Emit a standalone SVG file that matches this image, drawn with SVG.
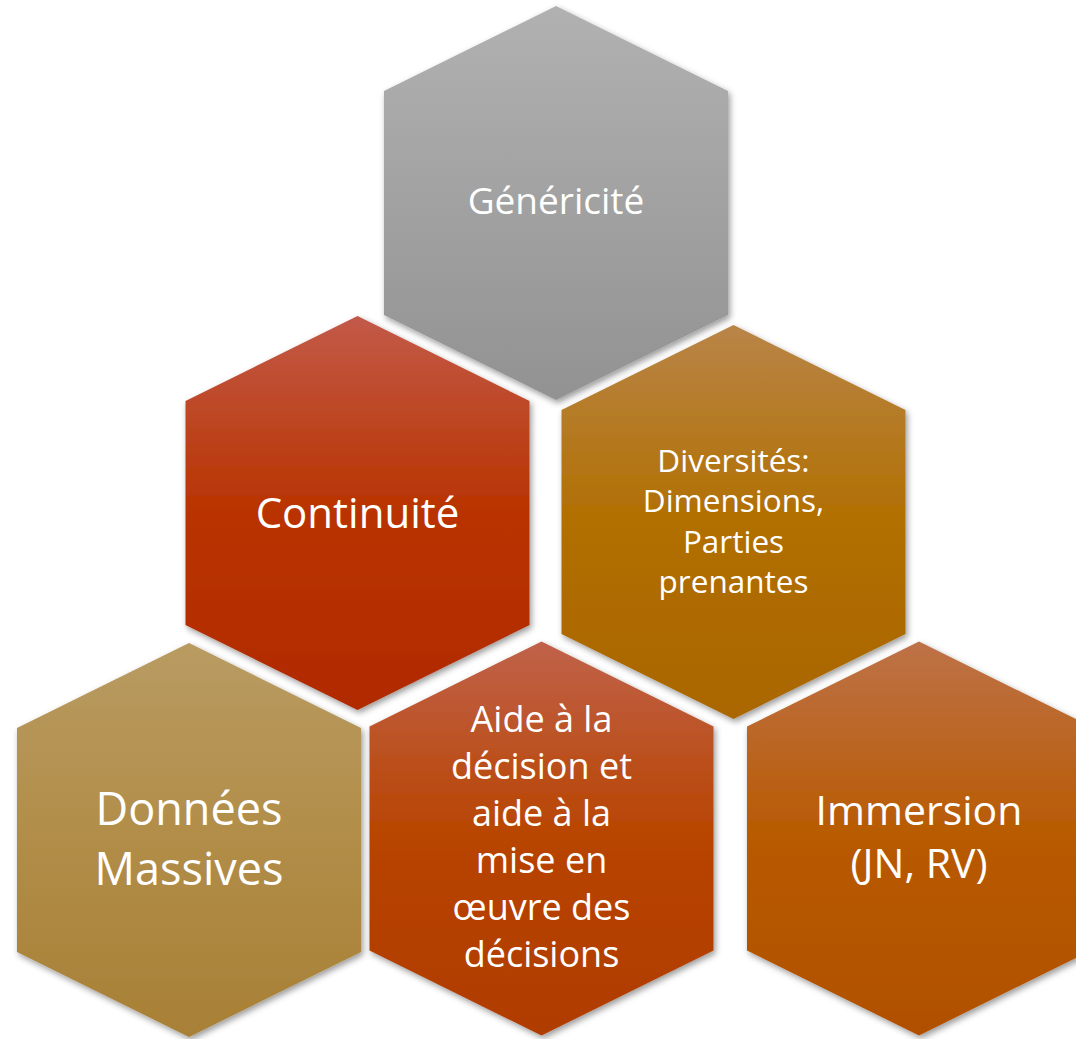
<svg xmlns="http://www.w3.org/2000/svg" width="1076" height="1039" viewBox="0 0 1076 1039">
<style>
.t{font-family:"Open Sans","Liberation Sans",sans-serif;fill:#fff;text-anchor:middle}
</style>
<defs>
<path id="hex" d="M0,-197 L172,-112 L172,112 L0,197 L-172,112 L-172,-112 Z"/>
<filter id="sh" x="-10%" y="-10%" width="125%" height="125%">
<feDropShadow dx="2" dy="3" stdDeviation="3" flood-color="#000" flood-opacity="0.4"/>
</filter>
<linearGradient id="gGray" x1="0" y1="0" x2="0" y2="1"><stop offset="0" stop-color="#b1b1b1"/><stop offset="1" stop-color="#929292"/></linearGradient>
<linearGradient id="gCont" x1="0" y1="0" x2="0" y2="1"><stop offset="0" stop-color="#c25a48"/><stop offset="0.5" stop-color="#b93300"/><stop offset="1" stop-color="#b02a00"/></linearGradient>
<linearGradient id="gDiv" x1="0" y1="0" x2="0" y2="1"><stop offset="0" stop-color="#b98548"/><stop offset="0.5" stop-color="#b16f00"/><stop offset="1" stop-color="#aa6600"/></linearGradient>
<linearGradient id="gDon" x1="0" y1="0" x2="0" y2="1"><stop offset="0" stop-color="#b99b62"/><stop offset="0.5" stop-color="#b18d48"/><stop offset="1" stop-color="#a88036"/></linearGradient>
<linearGradient id="gAide" x1="0" y1="0" x2="0" y2="1"><stop offset="0" stop-color="#c0624a"/><stop offset="0.5" stop-color="#b84400"/><stop offset="1" stop-color="#b03c00"/></linearGradient>
<linearGradient id="gImm" x1="0" y1="0" x2="0" y2="1"><stop offset="0" stop-color="#bd7248"/><stop offset="0.5" stop-color="#b85a00"/><stop offset="1" stop-color="#b05000"/></linearGradient>
</defs>
<rect width="1076" height="1039" fill="#fff"/>
<g id="connectors"/>
<g id="generici" transform="translate(556,203)">
<use href="#hex" fill="url(#gGray)" filter="url(#sh)"/>
<text class="t" x="0" y="11" font-size="37">Généricité</text>
</g>
<g id="continuite" transform="translate(357.5,513)">
<use href="#hex" fill="url(#gCont)" filter="url(#sh)"/>
<text class="t" x="0" y="15" font-size="42">Continuité</text>
</g>
<g id="diversites" transform="translate(733.5,522)">
<use href="#hex" fill="url(#gDiv)" filter="url(#sh)"/>
<text class="t" font-size="31.5"><tspan x="0" y="-50">Diversités:</tspan><tspan x="0" y="-10">Dimensions,</tspan><tspan x="0" y="31">Parties</tspan><tspan x="0" y="71">prenantes</tspan></text>
</g>
<g id="donnees" transform="translate(189,840)">
<use href="#hex" fill="url(#gDon)" filter="url(#sh)"/>
<text class="t" font-size="45"><tspan x="0" y="-15">Données</tspan><tspan x="0" y="45">Massives</tspan></text>
</g>
<g id="aide" transform="translate(541.5,838.5)">
<use href="#hex" fill="url(#gAide)" filter="url(#sh)"/>
<text class="t" font-size="36"><tspan x="0" y="-106.5">Aide à la</tspan><tspan x="0" y="-59.5">décision et</tspan><tspan x="0" y="-12.5">aide à la</tspan><tspan x="0" y="34.5">mise en</tspan><tspan x="0" y="81.5">œuvre des</tspan><tspan x="0" y="128.5">décisions</tspan></text>
</g>
<g id="immersion" transform="translate(919,838.5)">
<use href="#hex" fill="url(#gImm)" filter="url(#sh)"/>
<text class="t" font-size="41"><tspan x="0" y="-13.5">Immersion</tspan><tspan x="0" y="39.5">(JN, RV)</tspan></text>
</g>
</svg>
